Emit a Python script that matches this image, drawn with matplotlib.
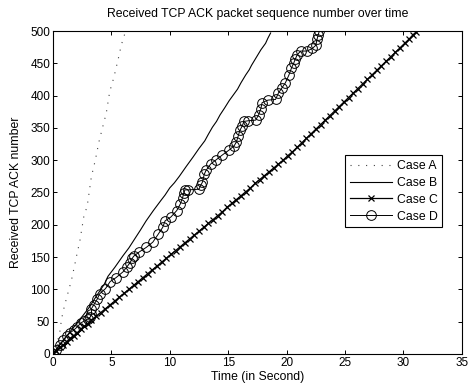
import matplotlib
matplotlib.use('Agg')
import matplotlib.pyplot as plt

plt.rcParams['font.family'] = ['Liberation Sans', 'DejaVu Sans']

# Case A: fast sender, sparse dotted trace
a_t = [0, 0.35, 0.6, 0.75, 1.0, 1.36, 1.6, 1.87, 2.1, 2.3, 2.64, 2.73, 2.93,
       3.29, 3.63, 3.95, 4.27, 4.57, 4.86, 5.2, 5.57, 5.85, 6.19]
a_seq = [0, 15, 35, 55, 75, 99, 115, 138, 158, 174, 212, 218, 228,
         274, 300, 329, 352, 373, 406, 427, 455, 478, 498]

# Case B: plain line
b_t = [0, 0.5, 1, 1.5, 2, 2.6, 3.15, 3.6, 4.0, 4.4, 4.71, 5.3, 6.0, 6.5, 7.0,
       7.5, 7.98, 8.6, 9.26, 9.6, 10.0, 10.4, 10.82, 11.4, 12.0, 12.5, 13.0,
       13.3, 13.65, 14.0, 14.3, 14.7, 15.08, 15.4, 15.8, 16.1, 16.5, 16.8,
       17.0, 17.3, 17.5, 17.8, 18.2, 18.4, 18.63]
b_seq = [0, 12, 23, 35, 46, 60, 73, 86, 97, 108, 120, 134, 152, 164, 178,
         192, 206, 222, 238, 246, 257, 265, 275, 290, 305, 318, 330,
         340, 351, 360, 370, 381, 392, 400, 410, 420, 432, 440,
         447, 456, 462, 471, 481, 489, 497]

# Case C: dense x markers
c_t = [0, 0.3, 0.6, 0.9, 1.2, 1.5, 1.8, 2.1, 2.4, 2.7, 3.0, 3.3, 3.7, 4.1,
       4.5, 4.9, 5.3, 5.7, 6.1, 6.5, 6.9, 7.3, 7.7, 8.1, 8.5, 8.9, 9.3, 9.7,
       10.1, 10.5, 10.9, 11.3, 11.7, 12.1, 12.5, 12.9, 13.3, 13.7, 14.1, 14.5,
       14.9, 15.3, 15.7, 16.1, 16.5, 16.9, 17.3, 17.7, 18.1, 18.5, 18.9, 19.3,
       19.7, 20.1, 20.5, 20.9, 21.3, 21.7, 22.1, 22.5, 22.9, 23.3, 23.7, 24.1,
       24.5, 24.9, 25.3, 25.7, 26.1, 26.5, 26.9, 27.3, 27.7, 28.1, 28.5, 28.9,
       29.3, 29.7, 30.1, 30.5, 30.8, 31.1]
c_seq = [0, 5, 10, 14, 19, 24, 28, 33, 38, 43, 47, 52, 58, 64,
         70, 76, 82, 88, 94, 100, 106, 112, 118, 124, 130, 136, 142, 148,
         154, 160, 166, 172, 178, 184, 190, 196, 202, 208, 214, 220,
         227, 233, 239, 245, 251, 257, 264, 270, 276, 282, 288, 294,
         300, 307, 313, 320, 327, 334, 341, 348, 355, 362, 369, 376,
         383, 390, 397, 404, 411, 418, 425, 432, 439, 446, 453, 460,
         467, 474, 481, 488, 494, 499]

# Case D: circles, stepwise bursts
d_t = [0, 0.3, 0.6, 0.9, 1.2, 1.5, 1.8, 2.1, 2.4, 2.7, 3.0, 3.2, 3.3, 3.3,
       3.5, 3.8, 4.0, 4.5, 4.9, 5.4, 6.0, 6.3, 6.6, 6.8, 6.9, 7.4, 8.0, 8.55,
       9.0, 9.4, 9.6, 10.1, 10.6, 10.9, 11.1, 11.2, 11.3, 11.6, 12.5, 12.65,
       12.8, 12.95, 13.1, 13.5, 14.0, 14.5, 15.1, 15.5, 15.7, 15.85, 16.0, 16.2,
       16.35, 16.7, 17.35, 17.6, 17.8, 17.9, 18.4, 19.05, 19.3, 19.6, 19.9, 20.2,
       20.4, 20.6, 20.75, 20.9, 21.2, 21.75, 22.2, 22.5, 22.6, 22.7, 22.8]
d_seq = [0, 6, 14, 22, 28, 33, 37, 42, 48, 51, 54, 57, 62, 70,
         76, 85, 93, 101, 112, 118, 127, 134, 141, 148, 151, 158, 165, 173,
         185, 196, 206, 212, 222, 232, 242, 249, 254, 254, 255, 261,
         266, 278, 284, 294, 301, 308, 316, 322, 328, 337, 346, 353,
         360, 361, 362, 370, 380, 389, 393, 394, 404, 412, 420, 432,
         442, 450, 457, 463, 469, 469, 473, 478, 487, 494, 500]

fig = plt.figure(figsize=(4.68, 3.88), dpi=100)
ax = fig.add_axes([0.113, 0.088, 0.874, 0.832])

ax.plot(a_t, a_seq, color='#444444', lw=0.8, dashes=(1, 6), label='Case A')
ax.plot(b_t, b_seq, color='black', lw=0.8, label='Case B')
ax.plot(c_t, c_seq, color='black', lw=0.9, marker='x', ms=4, mew=0.9, label='Case C')
ax.plot(d_t, d_seq, color='black', lw=0.7, marker='o', ms=7, mfc='none', mew=0.7, label='Case D')

ax.set_xlim(0, 35)
ax.set_ylim(0, 500)
ax.set_xticks(range(0, 36, 5))
ax.set_yticks(range(0, 501, 50))
ax.tick_params(direction='in', top=True, right=True, length=3, width=0.7, labelsize=8.5, pad=2)
for s in ax.spines.values():
    s.set_linewidth(0.8)

ax.set_title('Received TCP ACK packet sequence number over time', fontsize=8.8, pad=10)
ax.set_xlabel('Time (in Second)', fontsize=8.8, labelpad=2)
ax.set_ylabel('Received TCP ACK number', fontsize=8.8, labelpad=6)

leg = ax.legend(loc='upper left', bbox_to_anchor=(0.715, 0.616), borderaxespad=0,
                fancybox=False, edgecolor='black', fontsize=8.8, handlelength=3.4,
                labelspacing=0.4, borderpad=0.4, handletextpad=0.4, framealpha=1)
leg.get_frame().set_linewidth(0.8)

fig.savefig('out.png', dpi=100)
